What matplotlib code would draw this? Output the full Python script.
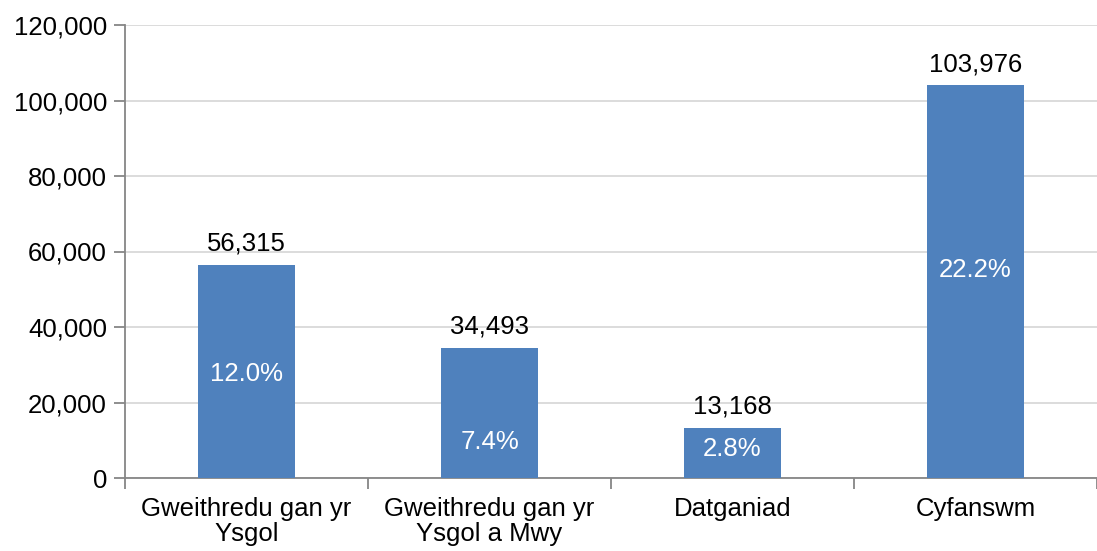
import numpy as np
import matplotlib.pyplot as plt

plt.rcParams['font.family'] = ['Liberation Sans', 'DejaVu Sans']

categories = ['Gweithredu gan yr\nYsgol', 'Gweithredu gan yr\nYsgol a Mwy', 'Datganiad', 'Cyfanswm']
values = [56315, 34493, 13168, 103976]
percents = ['12.0%', '7.4%', '2.8%', '22.2%']
# where the percent label sits, as a share of the bar height
pct_frac = [0.49, 0.28, 0.58, 0.53]

fig = plt.figure(figsize=(10.97, 5.51), dpi=100)
ax = fig.add_axes([125 / 1097, 73 / 551, 972 / 1097, 453 / 551])

x = np.arange(len(categories))
bars = ax.bar(x, values, width=0.4, color='#4F81BD', zorder=3)

for xi, v, p, f in zip(x, values, percents, pct_frac):
    ax.text(xi, v + 2500, f'{v:,}', ha='center', va='bottom', fontsize=18.5, color='black')
    ax.text(xi, v * f, p, ha='center', va='center', fontsize=18.5, color='white', zorder=4)

ax.set_ylim(0, 120000)
ax.set_yticks(np.arange(0, 120001, 20000))
ax.set_yticklabels([f'{t:,}' for t in range(0, 120001, 20000)], fontsize=18.5)
ax.set_xlim(-0.5, 3.4)
ax.set_xticks(x)
ax.set_xticklabels(categories, fontsize=18.5, linespacing=1.05)
ax.tick_params(axis='x', length=0, pad=14)
ax.set_xticks(np.arange(-0.5, 4, 1), minor=True)
ax.tick_params(axis='x', which='minor', length=8, color='#868686', width=1.3)
ax.tick_params(axis='y', length=8, color='#868686', width=1.3, pad=5)

ax.yaxis.grid(True, color='#D9D9D9', linewidth=1.3, zorder=0)
ax.set_axisbelow(True)
for s in ['top', 'right']:
    ax.spines[s].set_visible(False)
for s in ['left', 'bottom']:
    ax.spines[s].set_color('#868686')
    ax.spines[s].set_linewidth(1.3)

fig.savefig('out.png', dpi=100)
